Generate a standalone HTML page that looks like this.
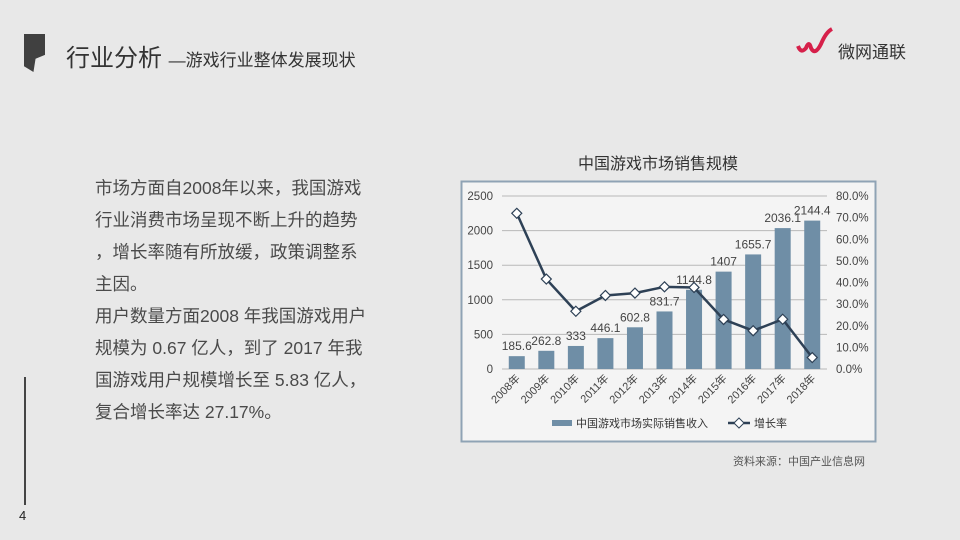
<!DOCTYPE html>
<html><head><meta charset="utf-8"><style>
body{margin:0;width:960px;height:540px;background:#e8e8e8;overflow:hidden;position:relative;font-family:"Liberation Sans","Noto Sans CJK SC",sans-serif;}
.abs{position:absolute;}
#body-text{left:95px;top:172px;font-size:17.5px;line-height:32px;color:#4a4a4a;width:300px;white-space:nowrap;}
</style></head><body>
<div class="abs" style="left:24px;top:34px;width:21px;height:38px;background:#404040;clip-path:polygon(0 0,100% 0,100% 55%,55% 65%,45% 100%,0 85%);"></div>
<div class="abs" style="left:66px;top:38px;font-size:24px;color:#333;">行业分析 <span style="font-size:17px">—游戏行业整体发展现状</span></div>
<svg class="abs" style="left:795px;top:26px" width="40" height="32"><path d="M3 20 Q6 28 11 22 Q14 14 16 22 Q20 30 26 18 Q31 6 37 3" stroke="#d6204a" stroke-width="4" fill="none"/></svg>
<div class="abs" style="left:838px;top:38px;font-size:17px;color:#333;">微网通联</div>
<div class="abs" id="body-text">市场方面自2008年以来，我国游戏<br>行业消费市场呈现不断上升的趋势<br>，增长率随有所放缓，政策调整系<br>主因。<br>用户数量方面2008 年我国游戏用户<br>规模为 0.67 亿人，到了 2017 年我<br>国游戏用户规模增长至 5.83 亿人，<br>复合增长率达 27.17%。</div>
<div class="abs" style="left:24px;top:377px;width:2px;height:128px;background:#444;"></div>
<div class="abs" style="left:19px;top:508px;font-size:13px;color:#222;">4</div>
<div class="abs" style="left:578px;top:150px;font-size:16px;color:#333;">中国游戏市场销售规模</div>
<svg class="abs" id="chart" style="left:0;top:0" width="960" height="540"></svg>
<div class="abs" style="left:733px;top:453px;font-size:11px;color:#555;">资料来源：中国产业信息网</div>
<script>
const categories=["2008年","2009年","2010年","2011年","2012年","2013年","2014年","2015年","2016年","2017年","2018年"];
const revenue=[185.6,262.8,333,446.1,602.8,831.7,1144.8,1407,1655.7,2036.1,2144.4];
const revenueLabels=["185.6","262.8","333","446.1","602.8","831.7","1144.8","1407","1655.7","2036.1","2144.4"];
const growth=[72.0,41.6,26.7,34.0,35.1,38.0,37.7,22.9,17.7,23.0,5.3];
const leftTicks=[0,500,1000,1500,2000,2500];
const rightTicks=[0,10,20,30,40,50,60,70,80];
const svg=document.getElementById('chart');
const NS='http://www.w3.org/2000/svg';
function mk(t,a,txt){const e=document.createElementNS(NS,t);for(const k in a)e.setAttribute(k,a[k]);if(txt!==undefined)e.textContent=txt;svg.appendChild(e);return e;}
const x0=502,x1=827,y0=369,yTop=196;
const band=(x1-x0)/categories.length;
const xC=i=>x0+band*(i+0.5);
const yL=v=>y0-(v/2500)*(y0-yTop);
const yR=v=>y0-(v/80)*(y0-yTop);
let r=mk('rect',{x:461.5,y:181.5,width:414,height:260,fill:'#f4f4f4',stroke:'#8fa3b5','stroke-width':2});

leftTicks.forEach(v=>{const g=mk('line',{x1:x0,x2:x1,y1:yL(v),y2:yL(v),stroke:'#b8b8b8','stroke-width':1});

const t=mk('text',{x:493,y:yL(v)+4,'text-anchor':'end','font-size':11.5,fill:'#444'},v);
});
rightTicks.forEach(v=>{const t=mk('text',{x:836,y:yR(v)+4,'font-size':11.5,fill:'#444'},v.toFixed(1)+'%');
});
categories.forEach((c,i)=>{
const b=mk('rect',{x:xC(i)-8,y:yL(revenue[i]),width:16,height:y0-yL(revenue[i]),fill:'#6f8ea6'});

const l=mk('text',{x:xC(i),y:yL(revenue[i])-6,'text-anchor':'middle','font-size':12,fill:'#444'},revenueLabels[i]);

const cx=xC(i)+4,cy=y0+10;
const t=mk('text',{x:cx,y:cy,'text-anchor':'end','font-size':11,fill:'#444',transform:`rotate(-45 ${cx} ${cy})`},c);
});
const pts=growth.map((g,i)=>xC(i)+','+yR(g)).join(' ');
const pl=mk('polyline',{points:pts,fill:'none',stroke:'#2e4156','stroke-width':2.5});

growth.forEach((g,i)=>{const x=xC(i),y=yR(g);
const m=mk('polygon',{points:`${x},${y-5} ${x+5},${y} ${x},${y+5} ${x-5},${y}`,fill:'#fff',stroke:'#2e4156','stroke-width':1.2});
});
const lb=mk('rect',{x:552,y:420,width:20,height:6,fill:'#6f8ea6'});

const lt=mk('text',{x:576,y:427,'font-size':11,fill:'#333'},'中国游戏市场实际销售收入');

const ll=mk('line',{x1:728,x2:750,y1:423,y2:423,stroke:'#2e4156','stroke-width':2.5});

const lm=mk('polygon',{points:'739,418 744,423 739,428 734,423',fill:'#fff',stroke:'#2e4156'});

const lt2=mk('text',{x:754,y:427,'font-size':11,fill:'#333'},'增长率');

</script>
</body></html>
